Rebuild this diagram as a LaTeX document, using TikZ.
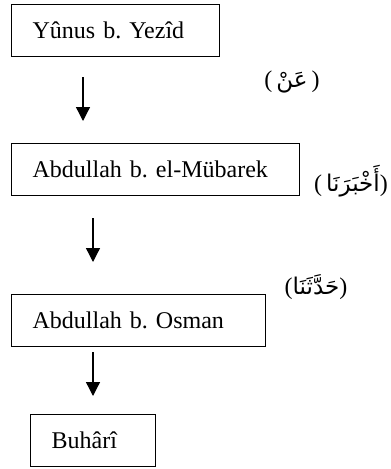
\documentclass[tikz,border=0pt]{standalone}
\usepackage{fontspec}
\setmainfont{Liberation Serif}
\newfontfamily\arabicfont[Script=Arabic]{DejaVu Sans}
\TeXXeTstate=1
\frenchspacing
\usetikzlibrary{arrows.meta}

\tikzset{
	ravi/.style={draw, rectangle, line width=1.3pt, anchor=north west, inner xsep=21pt, inner ysep=0pt, minimum height=52pt, align=left, font=\fontsize{24}{28}\selectfont},
	sigha/.style={inner sep=0pt, font=\fontsize{24}{28}\selectfont}
}
\newcommand{\arb}[1]{{\arabicfont\fontsize{23}{28}\selectfont\beginR #1\endR}}

\begin{document}
\begin{tikzpicture}[x=1pt,y=-1pt,>={Triangle[width=14pt,length=14pt]}]
	%\draw[gray,step=20] (0,0) grid (391,469);
	\useasboundingbox (0,0) rectangle (391,469);

	\node[ravi,text width=166pt] (yunus) at (11,4) {Yûnus b. Yezîd};
	\node[ravi,text width=246pt] (mubarek) at (11,143) {Abdullah b. el-Mübarek};
	\node[ravi,text width=212pt] (osman) at (11,294) {Abdullah b. Osman};
	\node[ravi,text width=83pt] (buhari) at (30,414) {Buhârî};

	\node[sigha] (an) at (292,82) {(\,\arb{عَنْ}\,)};
	\node[sigha] (ahberana) at (351,181) {(\,\arb{أَخْبَرَنَا})};
	\node[sigha] (haddesena) at (316,287) {(\arb{حَدَّثَنَا})};

	\coordinate (o1) at (83,77);  \coordinate (u1) at (83,121);
	\coordinate (o2) at (93,218); \coordinate (u2) at (93,262);
	\coordinate (o3) at (93,352); \coordinate (u3) at (93,396);
	\draw[->,line width=1.3pt] (o1) -- (u1);
	\draw[->,line width=1.3pt] (o2) -- (u2);
	\draw[->,line width=1.3pt] (o3) -- (u3);

\end{tikzpicture}
\end{document}
